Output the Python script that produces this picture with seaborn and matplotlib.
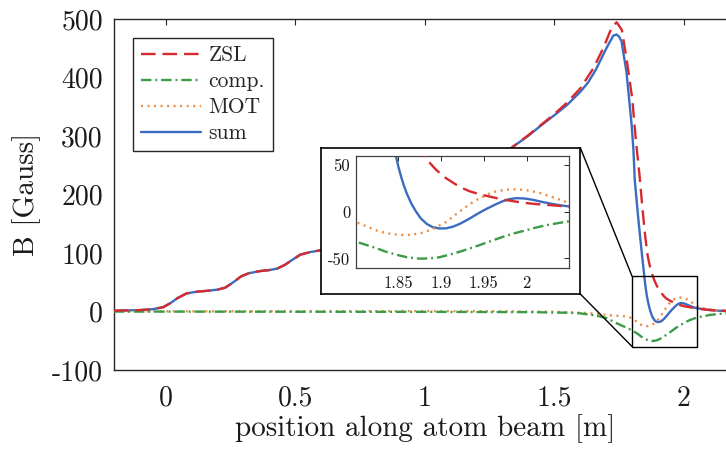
import numpy as np
import pandas as pd
import seaborn as sns
import matplotlib.pyplot as plt
from matplotlib.patches import Rectangle, ConnectionPatch

# values
x_zsl = [-0.2, -0.1, -0.05, -0.01, 0.02, 0.045, 0.08, 0.12, 0.16, 0.2, 0.23, 0.26, 0.29,
         0.32, 0.36, 0.40, 0.43, 0.46, 0.49, 0.52, 0.56, 0.6, 0.7, 0.8, 0.9, 1.0, 1.1,
         1.2, 1.28, 1.34, 1.40, 1.45, 1.50, 1.55, 1.60, 1.65, 1.69, 1.72, 1.74, 1.76,
         1.78, 1.80, 1.815, 1.828, 1.84, 1.85, 1.86, 1.87, 1.88, 1.887, 1.894, 1.904,
         1.914, 1.923, 1.933, 1.943, 1.953, 1.965, 1.976, 1.988, 2.0, 2.011, 2.022,
         2.035, 2.048, 2.09, 2.13, 2.2]
b_zsl = [1.5, 2.5, 4, 7.5, 15, 23, 31, 34, 35.5, 37.5, 41, 50, 60,
         65.5, 69, 71, 73.5, 80, 89, 97.5, 102, 105, 115, 140, 160, 182, 208,
         235, 260, 282, 302, 320, 338, 358, 382, 416, 452, 485, 495, 482,
         428, 365, 290, 235, 175, 130, 95, 74, 60, 52, 45, 37,
         31, 26, 22, 19.2, 17, 14.5, 12.5, 10.7, 9.2, 8.2, 7.4,
         6.5, 5.6, 3, 1.5, 0.5]

x_comp = [-0.2, 0.5, 1.0, 1.4, 1.55, 1.598, 1.663, 1.70, 1.74, 1.77, 1.8, 1.812, 1.824,
          1.835, 1.847, 1.86, 1.875, 1.887, 1.898, 1.91, 1.922, 1.933, 1.945, 1.958,
          1.972, 1.985, 1.999, 2.01, 2.022, 2.035, 2.048, 2.1, 2.162, 2.2]
b_comp = [0, -0.3, -0.5, -1, -2, -3, -7, -11, -20, -26, -32, -35.5, -39,
          -42.8, -46, -48.8, -50.3, -50, -48.8, -46, -42.8, -39.5, -35.8, -31.5,
          -27, -23.3, -20, -17.2, -14.7, -12.5, -10.5, -5.8, -3, -2]

x_mot = [-0.2, 0.5, 1.0, 1.3, 1.5, 1.6, 1.637, 1.7, 1.727, 1.76, 1.78, 1.8, 1.812, 1.824,
         1.835, 1.847, 1.857, 1.867, 1.877, 1.887, 1.896, 1.906, 1.915, 1.925, 1.935,
         1.945, 1.955, 1.964, 1.974, 1.984, 1.994, 2.003, 2.015, 2.026, 2.037, 2.048,
         2.08, 2.12, 2.2]
b_mot = [0.3, 0.5, 0.8, 0.5, -0.5, -2, -3, -5.5, -7, -7.5, -9, -11, -15.5, -20,
         -22.8, -24.4, -25, -24.5, -22.8, -19.8, -15.8, -11, -4.5, 2.5, 9,
         14.5, 18.8, 21.6, 23.3, 24, 23.6, 22.6, 20.2, 17, 13.5, 9.8,
         5, 2.5, 1]

x_sum = [-0.2, -0.1, -0.05, -0.01, 0.02, 0.045, 0.08, 0.12, 0.16, 0.2, 0.23, 0.26, 0.29,
         0.32, 0.36, 0.40, 0.43, 0.46, 0.49, 0.52, 0.56, 0.6, 0.7, 0.8, 0.9, 1.0, 1.1,
         1.2, 1.28, 1.34, 1.40, 1.45, 1.50, 1.55, 1.60, 1.63, 1.66, 1.70, 1.727, 1.74,
         1.75, 1.759, 1.778, 1.798, 1.805, 1.81, 1.823, 1.836, 1.847, 1.85, 1.853,
         1.856, 1.86, 1.865, 1.87, 1.876, 1.883, 1.89, 1.898, 1.906, 1.914, 1.923,
         1.933, 1.943, 1.953, 1.963, 1.972, 1.98, 1.988, 1.997, 2.007, 2.018, 2.03,
         2.04, 2.05, 2.09, 2.13, 2.2]
b_sum = [1.5, 2.5, 4, 7.5, 15, 23, 31, 34, 35.5, 37.5, 41, 50, 60,
         65.5, 69, 71, 73.5, 80, 89, 97.5, 102, 105, 115, 140, 160, 182, 208,
         235, 260, 282, 301, 319, 336, 354, 376, 392, 414, 450, 472, 474,
         470, 462, 410, 319, 276, 225, 162, 105, 60, 48, 38,
         29, 19, 9, 1, -7, -13, -16.5, -18, -17.8, -16, -12.5,
         -7.5, -2, 3, 7.5, 11.2, 13.5, 14.5, 14.2, 12.8, 10.5, 8.3,
         6.8, 5.6, 3, 1.5, 0.5]

series = [
    ("ZSL", x_zsl, b_zsl, "#d62a2f", (0, (10.5, 5)), 5),
    ("comp.", x_comp, b_comp, "#3b9b46", (0, (7.5, 2.8, 1.4, 2.8)), 4),
    ("MOT", x_mot, b_mot, "#ee8838", (0, (1.4, 3.3)), 3),
    ("sum", x_sum, b_sum, "#3b6cc0", "-", 2),
]

main_xticks = [0, 0.5, 1, 1.5, 2]
main_xlabels = ["0", "0.5", "1", "1.5", "2"]
main_yticks = [-100, 0, 100, 200, 300, 400, 500]
main_ylabels = ["-100", "0", "100", "200", "300", "400", "500"]
zoom_xticks = [1.85, 1.9, 1.95, 2]
zoom_xlabels = ["1.85", "1.9", "1.95", "2"]
zoom_yticks = [-50, 0, 50]
zoom_ylabels = ["-50", "0", "50"]
zoom_xlim = (1.8, 2.05)
zoom_ylim = (-60, 60)

sns.set_theme(style="white")
plt.rcParams["font.family"] = ["cmr10", "DejaVu Serif"]
plt.rcParams["mathtext.fontset"] = "cm"
plt.rcParams["axes.unicode_minus"] = False
plt.rcParams["lines.scale_dashes"] = False

W, H = 726, 451
fig = plt.figure(figsize=(W / 100, H / 100), dpi=100)


def fig_box(l, t, r, b):
    return [l / W, 1 - b / H, (r - l) / W, (b - t) / H]


ax = fig.add_axes(fig_box(114, 19.3, 735.8, 370))
for name, xs, ys, col, ls, z in series:
    df = pd.DataFrame({"x": xs, "B": ys})
    sns.lineplot(data=df, x="x", y="B", ax=ax, color=col, linestyle=ls,
                 linewidth=1.7, label=name, errorbar=None, zorder=z)

ax.set_xlim(-0.2, 2.2)
ax.set_ylim(-100, 500)
ax.set_xticks(main_xticks, main_xlabels)
ax.set_yticks(main_yticks, main_ylabels)
ax.tick_params(direction="in", length=4.5, width=0.8, colors="#262626",
               labelsize=20, top=True, right=True, labelcolor="#1a1a1a")
ax.tick_params(axis="x", pad=11)
ax.tick_params(axis="y", pad=8)
for s in ax.spines.values():
    s.set_color("#262626")
    s.set_linewidth(1.0)
ax.set_xlabel("position along atom beam [m]", fontsize=21, labelpad=2, color="#1a1a1a")
ax.set_ylabel("B [Gauss]", fontsize=21, labelpad=8, color="#1a1a1a")

leg = ax.legend(loc="upper left", bbox_to_anchor=((133.3 - 114) / 621.8, (370 - 38.3) / 350.7),
                borderaxespad=0, fontsize=15.5, handlelength=2.8, handletextpad=0.35,
                borderpad=0.35, labelspacing=0.3, fancybox=False, framealpha=1,
                edgecolor="#262626")
leg.get_frame().set_linewidth(1.0)

# zoom rectangle on the main axes
ax.add_patch(Rectangle((zoom_xlim[0], zoom_ylim[0]), zoom_xlim[1] - zoom_xlim[0],
                       zoom_ylim[1] - zoom_ylim[0], fill=False, edgecolor="black",
                       linewidth=1.0, zorder=6))

# white frame behind the inset
frame = fig.add_axes(fig_box(321, 147.7, 580.3, 294))
frame.set_xticks([])
frame.set_yticks([])
frame.set_facecolor("white")
for s in frame.spines.values():
    s.set_color("black")
    s.set_linewidth(1.2)

for corner, yv in [((1, 1), zoom_ylim[1]), ((1, 0), zoom_ylim[0])]:
    con = ConnectionPatch(xyA=corner, coordsA=frame.transAxes,
                          xyB=(zoom_xlim[0], yv), coordsB=ax.transData,
                          color="black", linewidth=1.0)
    fig.add_artist(con)

ins = fig.add_axes(fig_box(355.7, 155.7, 569.3, 267.7))
for name, xs, ys, col, ls, z in series:
    df = pd.DataFrame({"x": xs, "B": ys})
    sns.lineplot(data=df, x="x", y="B", ax=ins, color=col, linestyle=ls,
                 linewidth=1.7, errorbar=None, legend=False, zorder=z)
ins.set_xlim(*zoom_xlim)
ins.set_ylim(*zoom_ylim)
ins.set_xticks(zoom_xticks, zoom_xlabels)
ins.set_yticks(zoom_yticks, zoom_ylabels)
ins.set_xlabel("")
ins.set_ylabel("")
ins.tick_params(direction="in", length=3.5, width=0.7, colors="#262626",
                labelsize=12, top=True, right=True, pad=4, labelcolor="#1a1a1a")
ins.tick_params(axis="x", pad=6)
for s in ins.spines.values():
    s.set_color("#404040")
    s.set_linewidth(0.9)

fig.savefig("out.png", dpi=100)
